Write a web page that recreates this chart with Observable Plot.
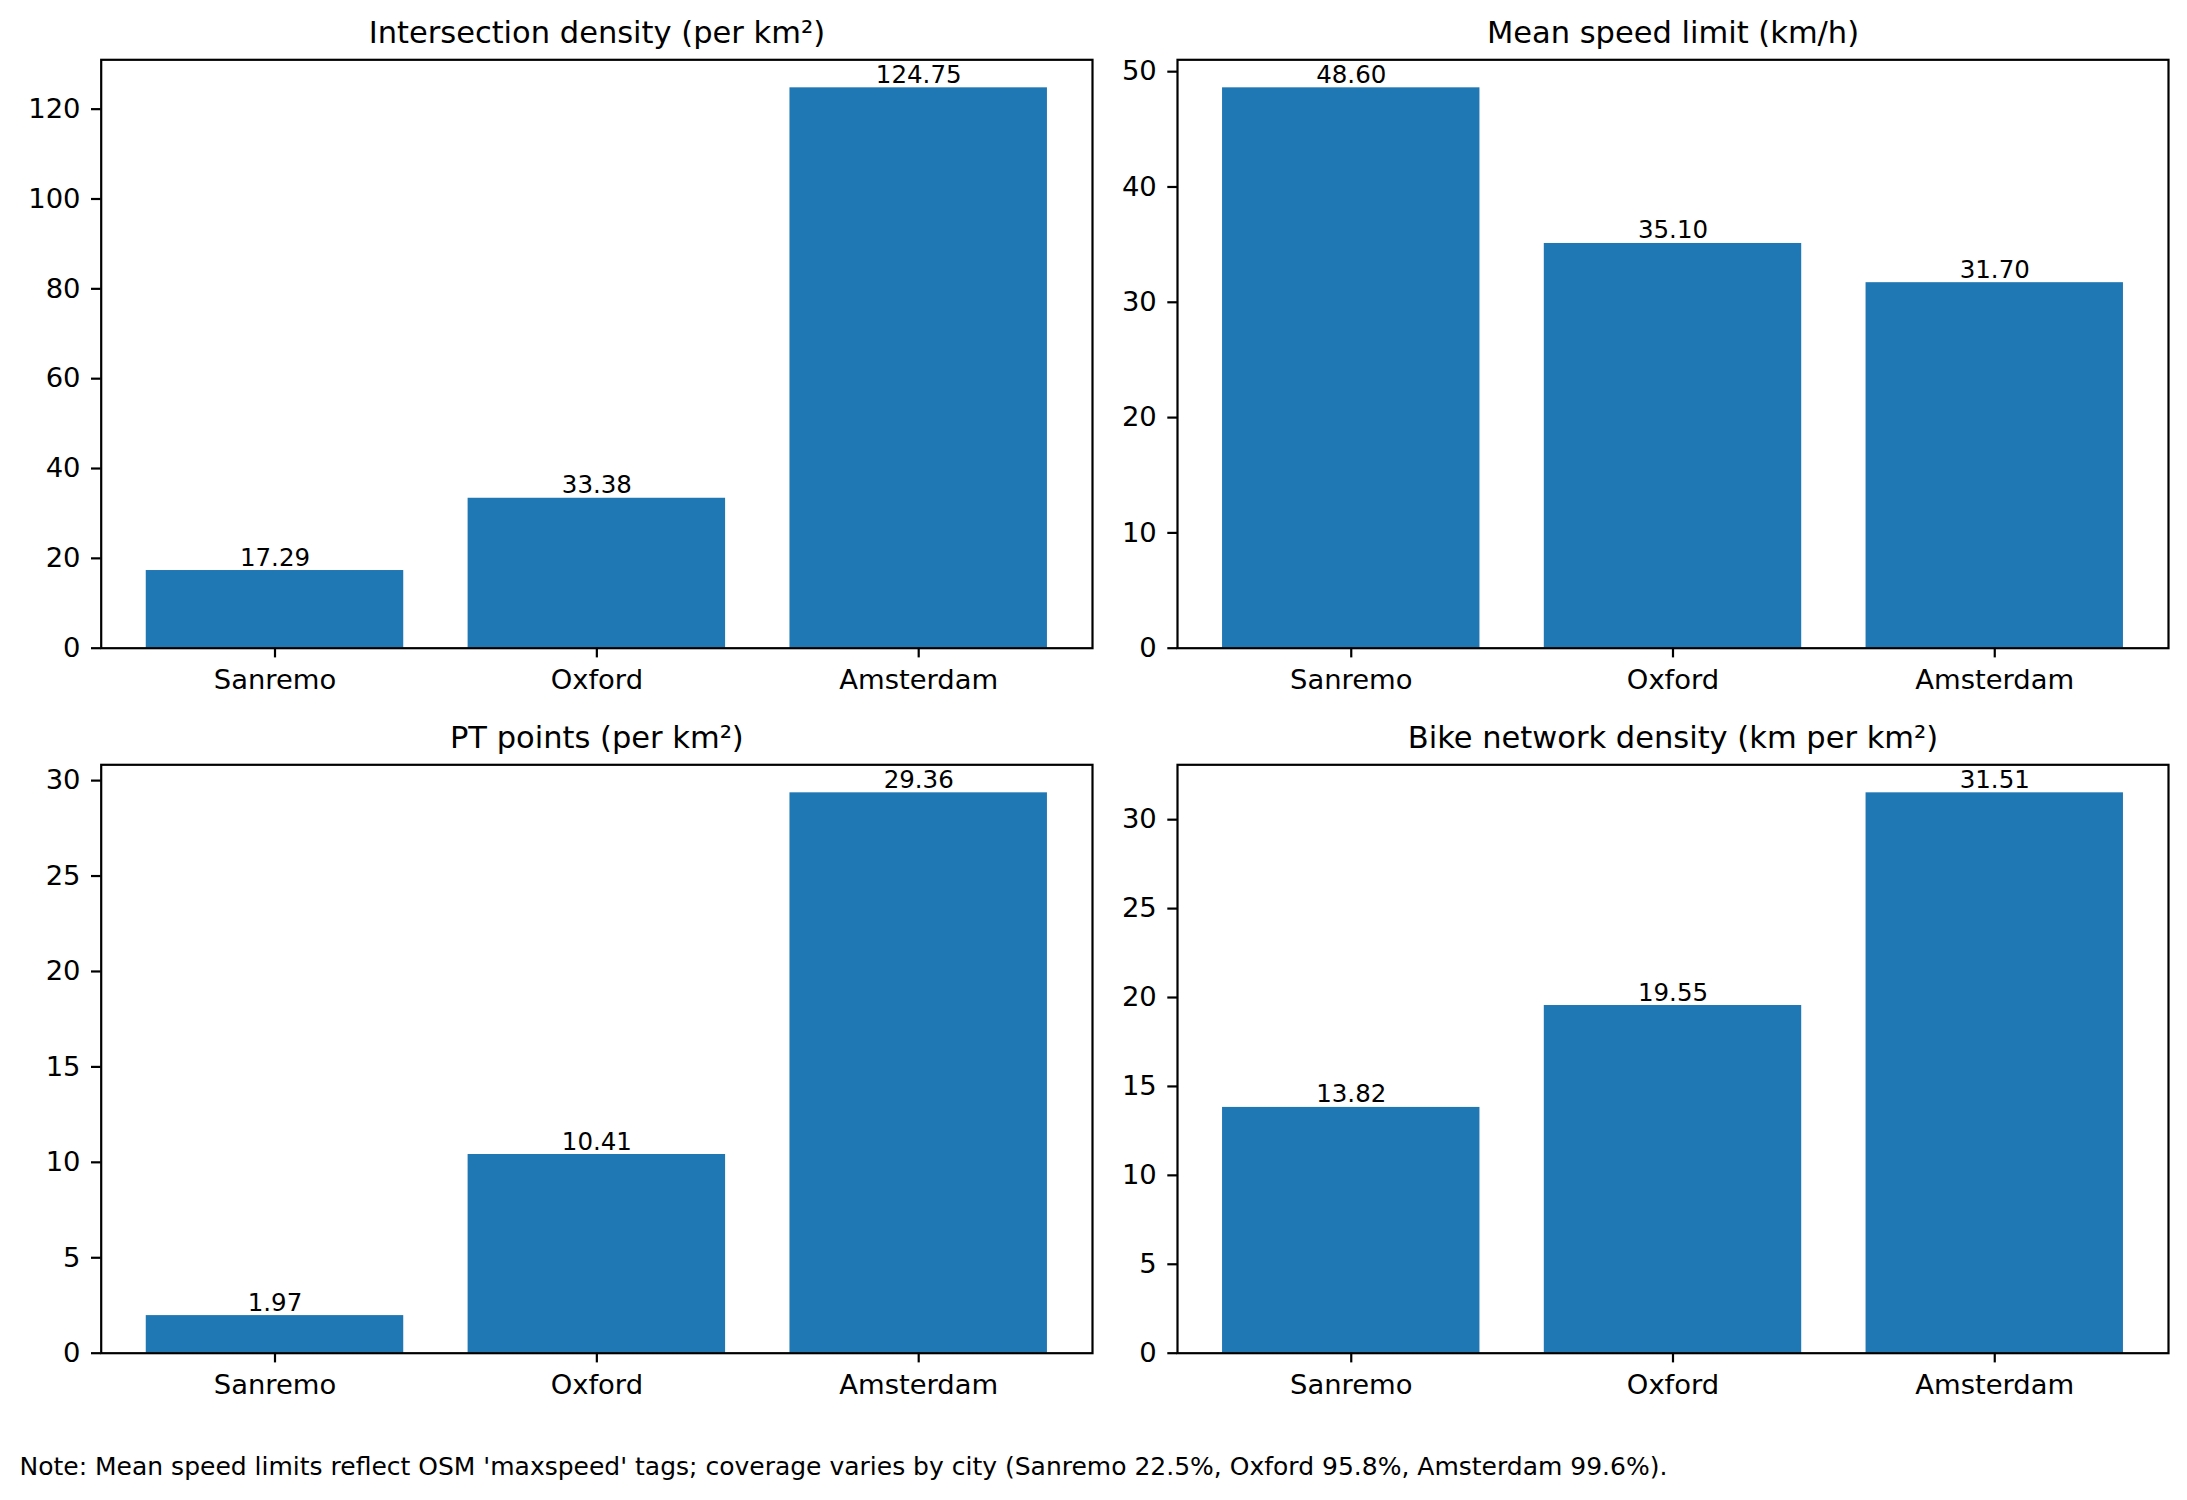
<!DOCTYPE html>
<html>
<head>
<meta charset="utf-8">
<script src="https://cdn.jsdelivr.net/npm/d3@7"></script>
<script src="https://cdn.jsdelivr.net/npm/@observablehq/plot@0.6"></script>
<style>
  html, body { margin: 0; padding: 0; background: white; }
  #fig { position: relative; width: 2187px; height: 1500px; background: white; font-family: "DejaVu Sans", sans-serif; }
  .panel { position: absolute; }
  #note { position: absolute; left: 19.5px; top: 1454px; font-size: 25px; line-height: 1; white-space: nowrap; color: black; font-family: "DejaVu Sans", sans-serif; }
</style>
</head>
<body>
<div id="fig"></div>
<script>
// ---- Data ----
const cities = ["Sanremo", "Oxford", "Amsterdam"];
const intersectionDensity = [17.29, 33.38, 124.75];
const meanSpeedLimit = [48.60, 35.10, 31.70];
const ptPoints = [1.97, 10.41, 29.36];
const bikeNetworkDensity = [13.82, 19.55, 31.51];

const titles = [
  "Intersection density (per km²)",
  "Mean speed limit (km/h)",
  "PT points (per km²)",
  "Bike network density (km per km²)"
];
const ticksIntersection = [0, 20, 40, 60, 80, 100, 120];
const ticksSpeed = [0, 10, 20, 30, 40, 50];
const ticksPT = [0, 5, 10, 15, 20, 25, 30];
const ticksBike = [0, 5, 10, 15, 20, 25, 30];
const note = "Note: Mean speed limits reflect OSM 'maxspeed' tags; coverage varies by city (Sanremo 22.5%, Oxford 95.8%, Amsterdam 99.6%).";

// ---- Layout ----
const BAR = "#1f77b4";
const fig = document.getElementById("fig");

const panels = [
  {title: titles[0], values: intersectionDensity, ticks: ticksIntersection, col: 0, row: 0},
  {title: titles[1], values: meanSpeedLimit, ticks: ticksSpeed, col: 1, row: 0},
  {title: titles[2], values: ptPoints, ticks: ticksPT, col: 0, row: 1},
  {title: titles[3], values: bikeNetworkDensity, ticks: ticksBike, col: 1, row: 1}
];

const colSpec = [
  {left: 0, width: 1100, marginLeft: 100.7, marginRight: 8},
  {left: 1100, width: 1087, marginLeft: 77, marginRight: 19}
];
const rowSpec = [
  {top: 0, height: 700, marginTop: 59.3, marginBottom: 52.3},
  {top: 705, height: 700, marginTop: 59.3, marginBottom: 52.3}
];

for (const p of panels) {
  const c = colSpec[p.col], r = rowSpec[p.row];
  const data = cities.map((city, i) => ({city, value: p.values[i]}));
  const ymax = d3.max(p.values) * 1.05;
  const chart = Plot.plot({
    width: c.width,
    height: r.height,
    marginLeft: c.marginLeft,
    marginRight: c.marginRight,
    marginTop: r.marginTop,
    marginBottom: r.marginBottom,
    style: {fontFamily: "DejaVu Sans, sans-serif", background: "white", overflow: "visible", color: "black"},
    x: {type: "band", domain: cities, paddingInner: 0.2, paddingOuter: 0.14, round: false, label: null},
    y: {domain: [0, ymax], label: null},
    marks: [
      Plot.barY(data, {x: "city", y: "value", fill: BAR}),
      Plot.text(data, {x: "city", y: "value", text: d => d.value.toFixed(2), lineAnchor: "bottom", dy: -5, fontSize: 24.5, fill: "black"}),
      Plot.frame({stroke: "black", strokeWidth: 2.2}),
      Plot.axisY({ticks: p.ticks, tickFormat: d => String(d), tickSize: 9.7, tickPadding: 11, strokeWidth: 2.2, fontSize: 27.4, label: null}),
      Plot.axisX({tickSize: 9.7, tickPadding: 11.5, strokeWidth: 2.2, fontSize: 27.4, label: null}),
      Plot.text([p.title], {frameAnchor: "top", dy: -16.4, lineAnchor: "bottom", fontSize: 30.5, fill: "black"})
    ]
  });
  const wrap = document.createElement("div");
  wrap.className = "panel";
  wrap.style.left = c.left + "px";
  wrap.style.top = r.top + "px";
  wrap.appendChild(chart);
  fig.appendChild(wrap);
}

const n = document.createElement("div");
n.id = "note";
n.textContent = note;
fig.appendChild(n);
</script>
</body>
</html>
